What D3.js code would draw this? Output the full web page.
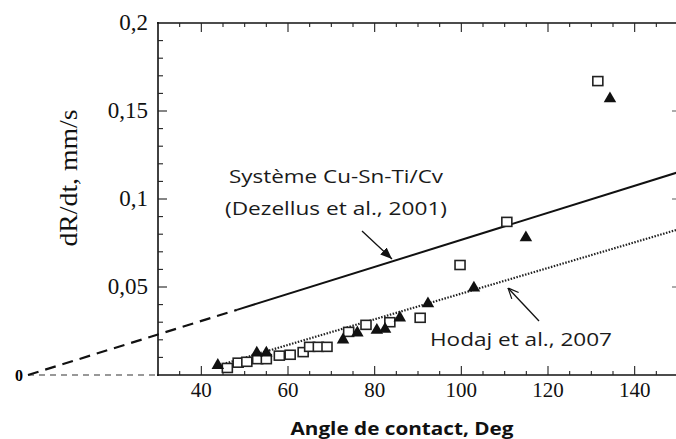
<!DOCTYPE html>
<html>
<head>
    <meta charset="utf-8">
    <title>dR/dt vs angle de contact</title>
    <script src="https://cdn.jsdelivr.net/npm/d3@7"></script>
    <style>
        body { margin: 0; background: #fff; }
        svg { display: block; }
        .serif { font-family: "Liberation Serif", "DejaVu Serif", serif; }
        .note { font-family: "Open Sans", "Noto Sans", sans-serif; }
    </style>
</head>
<body>
<svg id="chart" width="676" height="439"></svg>
<script>
// data
var squareAngle = [46, 48.5, 50.5, 53, 55, 58, 60.5, 63.5, 65, 67, 69, 74, 78, 83.5, 90.5, 99.7, 110.5, 131.5];
var squareRate  = [0.004, 0.007, 0.0075, 0.009, 0.009, 0.011, 0.0115, 0.013, 0.016, 0.016, 0.016, 0.0245, 0.0285, 0.030, 0.0325, 0.0625, 0.087, 0.167];
var triAngle = [43.8, 52.8, 55, 72.7, 76, 80.5, 82.4, 85.8, 92.3, 102.9, 114.9, 134.3];
var triRate  = [0.0055, 0.0125, 0.0125, 0.020, 0.024, 0.0255, 0.026, 0.0325, 0.0405, 0.0495, 0.078, 0.157];

// Dezellus line (through origin), dashed part then solid part
var dezDashAngle = [0, 48.2];
var dezDashRate  = [0, 0.037];
var dezSolidAngle = [48.2, 150];
var dezSolidRate  = [0.037, 0.1152];
// Hodaj line (dotted)
var hodajAngle = [43, 150];
var hodajRate  = [0.0047, 0.0827];

var xTicks = [40, 60, 80, 100, 120, 140];
var yTicks = [0.05, 0.1, 0.15, 0.2];
var yTickLabels = ["0,05", "0,1", "0,15", "0,2"];

var svg = d3.select("#chart");
var x = d3.scaleLinear().domain([30, 150]).range([158, 678]);
var y = d3.scaleLinear().domain([0, 0.2]).range([375, 23]);

var line = d3.line()
    .x(function (d) { return x(d[0]); })
    .y(function (d) { return y(d[1]); });
function pairs(a, b) { return a.map(function (v, i) { return [v, b[i]]; }); }

// frame lines
svg.append("line").attr("x1", 158).attr("x2", 158).attr("y1", 22).attr("y2", 376)
    .attr("stroke", "#111").attr("stroke-width", 1.6);
svg.append("line").attr("x1", 157).attr("x2", 676).attr("y1", 375).attr("y2", 375)
    .attr("stroke", "#111").attr("stroke-width", 1.6);
svg.append("line").attr("x1", 157).attr("x2", 676).attr("y1", 23).attr("y2", 23)
    .attr("stroke", "#111").attr("stroke-width", 1.4);

// x minor ticks (every 5), inward on bottom and top
var xMinor = d3.range(35, 150, 5);
svg.selectAll(".xtb").data(xMinor).enter().append("line")
    .attr("x1", function (d) { return x(d); }).attr("x2", function (d) { return x(d); })
    .attr("y1", 375).attr("y2", function (d) { return d % 20 === 0 ? 366 : 371; })
    .attr("stroke", "#222").attr("stroke-width", 1.1);
svg.selectAll(".xtt").data(xMinor).enter().append("line")
    .attr("x1", function (d) { return x(d); }).attr("x2", function (d) { return x(d); })
    .attr("y1", 23).attr("y2", function (d) { return d % 20 === 0 ? 32 : 27; })
    .attr("stroke", "#222").attr("stroke-width", 1.1);

// y minor ticks (every 0.01), inward on left and right
var yMinor = d3.range(1, 20).map(function (i) { return i / 100; });
svg.selectAll(".ytl").data(yMinor).enter().append("line")
    .attr("x1", 158).attr("x2", function (d, i) { return (i + 1) % 5 === 0 ? 167 : 163; })
    .attr("y1", function (d) { return y(d); }).attr("y2", function (d) { return y(d); })
    .attr("stroke", "#222").attr("stroke-width", 1.1);
svg.selectAll(".ytr").data(yTicks.slice(0, 3)).enter().append("line")
    .attr("x1", 672).attr("x2", 676)
    .attr("y1", function (d) { return y(d); }).attr("y2", function (d) { return y(d); })
    .attr("stroke", "#666").attr("stroke-width", 1.1);

// tick labels
svg.selectAll(".xl").data(xTicks).enter().append("text")
    .attr("class", "serif").attr("x", function (d) { return x(d); }).attr("y", 397)
    .attr("text-anchor", "middle").attr("font-size", 21).attr("fill", "#111")
    .text(function (d) { return d; });
svg.selectAll(".yl").data(yTicks).enter().append("text")
    .attr("class", "serif").attr("x", 148).attr("y", function (d) { return y(d) + 7; })
    .attr("text-anchor", "end").attr("font-size", 23).attr("fill", "#111")
    .text(function (d, i) { return yTickLabels[i]; });
svg.append("text").attr("class", "serif").attr("x", 19).attr("y", 381)
    .attr("text-anchor", "middle").attr("font-size", 16).attr("font-weight", "bold").text("0");

// axis titles
svg.append("text").attr("class", "serif")
    .attr("transform", "translate(77,178) rotate(-90)")
    .attr("text-anchor", "middle").attr("font-size", 26).attr("fill", "#111")
    .attr("textLength", 137).attr("lengthAdjust", "spacingAndGlyphs")
    .text("dR/dt, mm/s");
svg.append("text")
    .attr("x", 402).attr("y", 435).attr("text-anchor", "middle")
    .attr("font-family", "'Open Sans', 'Noto Sans', sans-serif")
    .attr("font-weight", "bold").attr("font-size", 18).attr("fill", "#111")
    .attr("textLength", 223).attr("lengthAdjust", "spacingAndGlyphs")
    .text("Angle de contact, Deg");

// horizontal grey dashes from origin along y = 0
svg.append("path").attr("d", line([[0, 0], [30, 0]]))
    .attr("stroke", "#777").attr("stroke-width", 1.6).attr("stroke-dasharray", "6,5")
    .attr("fill", "none");

// Dezellus line
svg.append("path").attr("d", line(pairs(dezDashAngle, dezDashRate)))
    .attr("stroke", "#111").attr("stroke-width", 2.2).attr("stroke-dasharray", "11,7")
    .attr("fill", "none");
svg.append("path").attr("d", line(pairs(dezSolidAngle, dezSolidRate)))
    .attr("stroke", "#111").attr("stroke-width", 2).attr("fill", "none");

// Hodaj dotted line
svg.append("path").attr("d", line(pairs(hodajAngle, hodajRate)))
    .attr("stroke", "#222").attr("stroke-width", 2.2).attr("stroke-dasharray", "1.5,1.5")
    .attr("fill", "none");

// points
svg.selectAll(".sq").data(pairs(squareAngle, squareRate)).enter().append("rect")
    .attr("x", function (d) { return x(d[0]) - 5; })
    .attr("y", function (d) { return y(d[1]) - 4.5; })
    .attr("width", 10).attr("height", 9)
    .attr("fill", "#fff").attr("stroke", "#222").attr("stroke-width", 1.6);
var tri = d3.symbol().type(d3.symbolTriangle).size(68);
svg.selectAll(".tr").data(pairs(triAngle, triRate)).enter().append("path")
    .attr("d", tri)
    .attr("transform", function (d) { return "translate(" + x(d[0]) + "," + y(d[1]) + ")"; })
    .attr("fill", "#111");

// annotations
svg.append("defs").append("marker").attr("id", "ah")
    .attr("viewBox", "0 0 10 10").attr("refX", 10).attr("refY", 5)
    .attr("markerWidth", 9).attr("markerHeight", 9).attr("orient", "auto")
    .append("path").attr("d", "M0,1 L10,5 L0,9 Z").attr("fill", "#111");
svg.append("defs").append("marker").attr("id", "ao")
    .attr("viewBox", "0 0 10 10").attr("refX", 10).attr("refY", 5)
    .attr("markerWidth", 9).attr("markerHeight", 9).attr("orient", "auto")
    .append("path").attr("d", "M1,1 L10,5 L1,9").attr("fill", "none").attr("stroke", "#111");

svg.append("line").attr("x1", 362).attr("y1", 231).attr("x2", 392).attr("y2", 259)
    .attr("stroke", "#111").attr("stroke-width", 1.3).attr("marker-end", "url(#ah)");
svg.append("line").attr("x1", 539).attr("y1", 321).attr("x2", 508).attr("y2", 288)
    .attr("stroke", "#111").attr("stroke-width", 1.3).attr("marker-end", "url(#ao)");

svg.append("text").attr("class", "note").attr("x", 336).attr("y", 183)
    .attr("text-anchor", "middle").attr("font-size", 19).attr("fill", "#1a1a1a")
    .attr("textLength", 214).attr("lengthAdjust", "spacingAndGlyphs")
    .text("Système Cu-Sn-Ti/Cv");
svg.append("text").attr("class", "note").attr("x", 336).attr("y", 215)
    .attr("text-anchor", "middle").attr("font-size", 19).attr("fill", "#1a1a1a")
    .attr("textLength", 222).attr("lengthAdjust", "spacingAndGlyphs")
    .text("(Dezellus et al., 2001)");
svg.append("text").attr("class", "note").attr("x", 430).attr("y", 346)
    .attr("font-size", 19).attr("fill", "#1a1a1a")
    .attr("textLength", 182).attr("lengthAdjust", "spacingAndGlyphs")
    .text("Hodaj et al., 2007");
</script>
</body>
</html>
